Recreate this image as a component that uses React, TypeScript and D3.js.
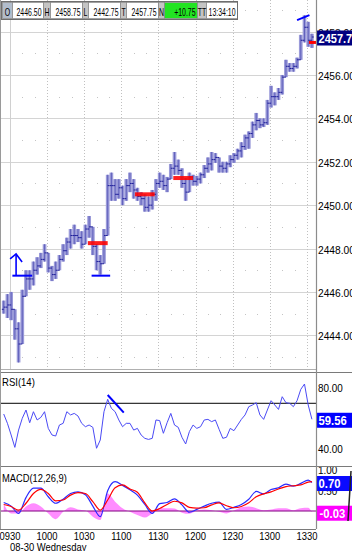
import React from "react";
import * as d3 from "d3";

// ---------- data ----------
const quoteLabels = ["O", "H", "L", "T", "N", "TT"];
const quoteValues = ["2446.50", "2458.75", "2442.75", "2457.75", "+10.75", "13:34:10"];

const firstBarTime = "09:25";
const barMinutes = 3;

const barOpen = [2445.2, 2445.3, 2445.4, 2445.2, 2444.3, 2443.6, 2445.8, 2446.6, 2446.6, 2447.0,
  2447.2, 2447.5, 2447.8, 2447.1, 2446.8, 2447.0, 2447.5, 2447.9, 2448.3, 2448.6,
  2448.6, 2448.5, 2448.2, 2448.9, 2449.0, 2448.1, 2447.4, 2447.3, 2448.6, 2450.9,
  2450.9, 2450.5, 2450.8, 2450.3, 2450.9, 2451.0, 2450.7, 2450.4, 2450.3, 2449.9,
  2450.0, 2450.5, 2451.0, 2451.1, 2450.9, 2451.2, 2451.7, 2451.8, 2451.6, 2451.0,
  2450.6, 2451.3, 2451.1, 2451.2, 2451.4, 2451.7, 2451.9, 2452.1, 2452.2, 2451.8,
  2451.7, 2451.9, 2452.1, 2452.3, 2452.5, 2452.7, 2453.1, 2453.3, 2453.7, 2453.9,
  2453.7, 2453.8, 2454.7, 2455.0, 2455.0, 2455.2, 2455.9, 2456.4, 2456.3, 2456.4,
  2456.7, 2457.6, 2458.2, 2457.6];
const barHigh = [2445.6, 2445.9, 2446.0, 2445.2, 2444.6, 2446.1, 2447.0, 2447.0, 2447.4, 2447.6,
  2447.8, 2448.2, 2447.8, 2447.2, 2447.4, 2447.7, 2448.2, 2448.5, 2448.9, 2449.1,
  2448.9, 2448.8, 2449.1, 2449.5, 2449.0, 2448.2, 2447.7, 2448.9, 2451.4, 2451.5,
  2451.2, 2451.2, 2450.9, 2451.2, 2451.5, 2451.2, 2450.8, 2450.6, 2450.5, 2450.4,
  2450.7, 2451.2, 2451.5, 2451.4, 2451.3, 2451.9, 2452.45, 2452.1, 2451.7, 2451.25,
  2451.5, 2451.4, 2451.35, 2451.5, 2451.85, 2452.2, 2452.45, 2452.4, 2452.2, 2452.0,
  2452.0, 2452.3, 2452.4, 2452.6, 2452.9, 2453.25, 2453.4, 2453.85, 2454.25, 2454.0,
  2454.0, 2454.85, 2455.5, 2455.2, 2455.4, 2456.0, 2456.7, 2456.55, 2456.55, 2456.8,
  2457.85, 2458.75, 2458.45, 2457.9];
const barLow = [2445.0, 2444.8, 2444.7, 2443.8, 2442.75, 2443.6, 2445.8, 2446.1, 2446.3, 2446.8,
  2447.1, 2447.4, 2446.9, 2446.5, 2446.6, 2447.0, 2447.4, 2447.7, 2448.0, 2448.2,
  2448.3, 2448.0, 2448.2, 2448.5, 2447.7, 2447.0, 2446.8, 2447.3, 2448.6, 2450.2,
  2450.2, 2450.3, 2450.0, 2450.2, 2450.6, 2450.3, 2450.2, 2450.0, 2449.7, 2449.7,
  2449.8, 2450.2, 2450.8, 2450.7, 2450.6, 2451.2, 2451.4, 2451.4, 2450.8, 2450.2,
  2450.6, 2450.9, 2450.9, 2451.0, 2451.25, 2451.5, 2451.6, 2451.95, 2451.5, 2451.5,
  2451.5, 2451.75, 2451.95, 2452.1, 2452.2, 2452.55, 2452.6, 2453.1, 2453.45, 2453.55,
  2453.6, 2453.7, 2454.5, 2454.6, 2454.85, 2455.1, 2455.9, 2456.15, 2456.15, 2456.3,
  2456.7, 2457.5, 2457.3, 2457.25];
const barClose = [2445.3, 2445.4, 2445.2, 2444.3, 2443.6, 2445.8, 2446.6, 2446.6, 2447.0, 2447.2,
  2447.5, 2447.8, 2447.1, 2446.8, 2447.0, 2447.5, 2447.9, 2448.3, 2448.6, 2448.6,
  2448.5, 2448.2, 2448.9, 2449.0, 2448.1, 2447.4, 2447.3, 2448.6, 2450.9, 2450.9,
  2450.5, 2450.8, 2450.3, 2450.9, 2451.0, 2450.7, 2450.4, 2450.3, 2449.9, 2450.0,
  2450.5, 2451.0, 2451.1, 2450.9, 2451.2, 2451.7, 2451.8, 2451.6, 2451.0, 2450.6,
  2451.3, 2451.1, 2451.2, 2451.4, 2451.7, 2451.9, 2452.1, 2452.2, 2451.8, 2451.7,
  2451.9, 2452.1, 2452.3, 2452.5, 2452.7, 2453.1, 2453.3, 2453.7, 2453.9, 2453.7,
  2453.8, 2454.7, 2455.0, 2455.0, 2455.2, 2455.9, 2456.4, 2456.3, 2456.4, 2456.7,
  2457.6, 2458.2, 2457.6, 2457.75];

const priceTicks = [2444, 2446, 2448, 2450, 2452, 2454, 2456, 2458];
const timeTicks = ["09:30", "10:00", "10:30", "11:00", "11:30", "12:00", "12:30", "13:00", "13:30"];
const dateLabel = "08-30 Wednesday";

const rsiTitle = "RSI(14)";
const rsiValues = [63.0, 56.9, 49.3, 41.2, 52.5, 60.2, 65.6, 57.3, 64.5, 59.1,
  60.8, 64.5, 53.6, 49.3, 48.6, 55.8, 56.9, 64.5, 62.4, 63.4,
  61.7, 56.9, 54.7, 55.8, 54.3, 40.6, 46.0, 64.5, 72.6, 66.7,
  64.5, 59.1, 54.7, 56.9, 56.9, 52.5, 53.6, 49.3, 47.1, 46.4,
  47.1, 59.1, 58.7, 50.4, 57.3, 63.4, 55.8, 54.3, 47.8, 43.4,
  51.5, 55.8, 53.6, 54.7, 59.1, 59.5, 58.0, 59.1, 53.0, 47.1,
  47.8, 53.6, 52.1, 55.8, 59.5, 62.4, 67.8, 68.9, 70.4, 62.4,
  59.5, 65.6, 71.7, 68.9, 66.0, 74.3, 70.4, 70.0, 67.8, 71.7,
  79.1, 82.6, 68.9, 59.56];
const rsiTicks = [80, 40];
const rsiLevel = 70;

const macdTitle = "MACD(12,26,9)";
const macdBarIndex = d3.range(0, 84, 2).concat([83]);
const macdLine = [0.21, 0.12, -0.06, 0.33, 0.56, 0.56, 0.35, 0.19, 0.29, 0.43,
  0.47, 0.40, 0.12, -0.14, 0.50, 0.72, 0.63, 0.52, 0.39, 0.16,
  -0.06, 0.18, 0.21, 0.30, 0.15, -0.03, 0.04, 0.12, 0.19, 0.22,
  0.04, 0.09, 0.16, 0.29, 0.48, 0.42, 0.53, 0.57, 0.66, 0.61,
  0.68, 0.76, 0.70];
const macdSignal = [0.16, 0.11, 0.02, 0.19, 0.43, 0.53, 0.43, 0.25, 0.27, 0.39,
  0.45, 0.43, 0.23, 0.02, 0.27, 0.57, 0.64, 0.54, 0.46, 0.20,
  0.00, 0.06, 0.16, 0.24, 0.20, 0.09, 0.07, 0.08, 0.15, 0.20,
  0.13, 0.08, 0.11, 0.20, 0.35, 0.42, 0.47, 0.54, 0.60, 0.62,
  0.64, 0.71, 0.72];
const macdHist = [0.17, -0.06, -0.06, 0.11, 0.19, 0.11, -0.06, -0.20, -0.02, 0.09,
  0.04, 0.01, -0.14, -0.22, 0.43, 0.23, 0.07, -0.02, -0.10, -0.16,
  -0.06, 0.07, 0.07, 0.06, -0.04, -0.07, 0.01, 0.04, 0.02, -0.02,
  -0.06, 0.01, 0.09, 0.11, 0.07, 0.02, 0.04, 0.07, 0.07, 0.02,
  0.07, 0.08, -0.03];
const macdTicks = [1.0, 0.5, 0.0];

// annotations
const redLevelPrices = [2448.25, 2450.5, 2451.25];
const redLevelFrom = ["10:33", "11:11", "11:42"];
const redLevelTo = ["10:49", "11:27", "11:58"];
const blueLevelPrices = [2446.75, 2446.75];
const blueLevelFrom = ["09:32", "10:36"];
const blueLevelTo = ["09:48", "10:51"];
const arrowTime = "09:35";
const arrowPrices = [2446.75, 2447.75];
const topTrendTimes = ["13:22", "13:32"];
const topTrendPrices = [2458.53, 2458.76];
const rsiTrendTimes = ["10:49", "11:02"];
const rsiTrendValues = [75.4, 63.9];
const lastMarkPrice = 2457.5;

// ---------- helpers ----------
const toMin = (s: string) => {
  const [h, m] = s.split(":").map(Number);
  return h * 60 + m;
};
const FF = "'Liberation Sans', Arial, Helvetica, sans-serif";

function Txt(props: any) {
  const { x, y, s = 1, a = "start", size = 11, w = 400, fill = "#000", children } = props;
  return (
    <text
      transform={`translate(${x},${y}) scale(${s},1)`}
      textAnchor={a}
      fontSize={size}
      fontWeight={w}
      fill={fill}
      fontFamily={FF}
    >
      {children}
    </text>
  );
}

export default function App() {
  const W = 352, H = 551, R = 316;
  const x = d3.scaleLinear().domain([562.0, 817.3]).range([0, R]);
  const yP = d3.scaleLinear().domain([2442.31, 2459.456]).range([372, 0]);
  const yR = d3.scaleLinear().domain([29.02, 89.8]).range([466, 373]);
  const yM = d3.scaleLinear().domain([-0.442, 1.081]).range([529, 467]);

  const t0 = toMin(firstBarTime);
  const bars = barClose.map((c, i) => ({
    t: t0 + i * barMinutes, o: barOpen[i], h: barHigh[i], l: barLow[i], c,
  }));
  const bw = x(t0 + barMinutes) - x(t0);
  const last = bars[bars.length - 1];

  const rsiPath = d3.line<number>().x((_, i) => x(bars[i].t)).y((v) => yR(v))(rsiValues) || "";
  const mPts = macdBarIndex.map((bi, k) => ({ t: bars[bi].t, m: macdLine[k], s: macdSignal[k], h: macdHist[k] }));
  const mPath = d3.line<any>().x((d) => x(d.t)).y((d) => yM(d.m)).curve(d3.curveMonotoneX)(mPts) || "";
  const sPath = d3.line<any>().x((d) => x(d.t)).y((d) => yM(d.s)).curve(d3.curveMonotoneX)(mPts) || "";
  const hPath = d3.area<any>().x((d) => x(d.t)).y0(yM(0)).y1((d) => yM(d.h)).curve(d3.curveMonotoneX)(mPts) || "";

  // minor grid dots
  const dots: { x: number; y: number }[] = [];
  for (let t = toMin("09:40"); t <= toMin("13:30"); t += 10) {
    if (t % 30 === 0) continue;
    for (let p = 2443; p <= 2459; p += 2) dots.push({ x: x(t), y: yP(p) });
  }

  // header cells
  const headerW = [[10, 31], [7, 32], [6, 32], [6, 32], [6, 33], [9, 31]];
  let hx = 2;
  const header = headerW.map(([lw, vw], i) => {
    const cell = { lx: hx, lw, vx: hx + lw, vw, label: quoteLabels[i], value: quoteValues[i] };
    hx += lw + vw;
    return cell;
  });

  const lastLabelY = yP(last.c) + 1;
  const rsiLast = rsiValues[rsiValues.length - 1];
  const macdLast = macdLine[macdLine.length - 1];
  const histLast = macdHist[macdHist.length - 1];

  return (
    <svg width={W} height={H} style={{ position: "absolute", left: 0, top: 0, background: "#fff" }}>
      <defs>
        <clipPath id="cp"><rect x={0} y={0} width={R} height={369} /></clipPath>
        <clipPath id="cr"><rect x={0} y={373} width={R} height={93} /></clipPath>
        <clipPath id="cm"><rect x={0} y={467} width={R} height={62} /></clipPath>
        <clipPath id="ap"><rect x={R} y={0} width={40} height={371} /></clipPath>
        <clipPath id="ar"><rect x={R} y={373} width={40} height={93} /></clipPath>
        <clipPath id="am"><rect x={R} y={467} width={40} height={62} /></clipPath>
      </defs>
      <rect x={0} y={0} width={W} height={H} fill="#fff" />

      {/* ---------- price panel ---------- */}
      <g clipPath="url(#cp)">
        {priceTicks.map((p) => (
          <line key={p} x1={0} x2={R} y1={Math.round(yP(p)) + 0.5} y2={Math.round(yP(p)) + 0.5} stroke="#d4d4d4" />
        ))}
        {dots.map((d, i) => (
          <rect key={i} x={Math.round(d.x)} y={Math.round(d.y)} width={1} height={1} fill="#c4c4c4" />
        ))}
        {timeTicks.map((t, i) => (
          <line key={t} x1={Math.round(x(toMin(t))) + 0.5} x2={Math.round(x(toMin(t))) + 0.5} y1={0} y2={369}
            stroke={i === 0 ? "#d0d0d0" : "#c0c0c0"} strokeDasharray={i === 0 ? undefined : "1,2"} />
        ))}
        {bars.map((b, i) => {
          const cx = x(b.t);
          return (
            <g key={i}>
              <rect x={cx - bw / 2} y={yP(b.h)} width={bw} height={Math.max(1, yP(b.l) - yP(b.h))} fill="#9a9ad9" />
              <line x1={cx} x2={cx} y1={yP(b.h)} y2={yP(b.l)} stroke="#6262bc" strokeWidth={1} />
              <line x1={cx - bw / 2} x2={cx} y1={yP(b.o)} y2={yP(b.o)} stroke="#20209a" strokeWidth={1} />
              <line x1={cx} x2={cx + bw / 2} y1={yP(b.c)} y2={yP(b.c)} stroke="#20209a" strokeWidth={1} />
            </g>
          );
        })}
        {redLevelPrices.map((p, i) => (
          <rect key={i} x={x(toMin(redLevelFrom[i]))} y={yP(p) - 2} width={x(toMin(redLevelTo[i])) - x(toMin(redLevelFrom[i]))}
            height={4} fill="#ff0000" opacity={0.88} />
        ))}
        {blueLevelPrices.map((p, i) => (
          <line key={i} x1={x(toMin(blueLevelFrom[i]))} x2={x(toMin(blueLevelTo[i]))} y1={yP(p)} y2={yP(p)} stroke="#0000ff" strokeWidth={2} />
        ))}
        <line x1={x(toMin(arrowTime))} x2={x(toMin(arrowTime))} y1={yP(arrowPrices[0])} y2={yP(arrowPrices[1])} stroke="#0000ff" strokeWidth={1.6} />
        <polyline
          points={`${x(toMin(arrowTime)) - 6},${yP(arrowPrices[1]) + 5} ${x(toMin(arrowTime))},${yP(arrowPrices[1])} ${x(toMin(arrowTime)) + 6},${yP(arrowPrices[1]) + 8}`}
          fill="none" stroke="#0000ff" strokeWidth={1.6} />
        <line x1={x(toMin(topTrendTimes[0]))} x2={x(toMin(topTrendTimes[1]))} y1={yP(topTrendPrices[0])} y2={yP(topTrendPrices[1])}
          stroke="#0000ff" strokeWidth={2} />
        <line x1={x(last.t) - 3} x2={R} y1={yP(lastMarkPrice)} y2={yP(lastMarkPrice)} stroke="#ff0000" strokeWidth={3} />
      </g>
      <line x1={0} x2={R} y1={369.5} y2={369.5} stroke="#b0b0b0" />

      {/* price axis */}
      <g clipPath="url(#ap)">
        {priceTicks.map((p) => (
          <Txt key={p} x={318} y={yP(p) + 5} s={0.93} size={11}>{p.toFixed(2)}</Txt>
        ))}
        <rect x={317} y={lastLabelY - 7.5} width={36} height={15} fill="#000080" />
        <Txt x={318.5} y={lastLabelY + 4.5} s={0.92} size={12} w={700} fill="#fff">{last.c.toFixed(2)}</Txt>
      </g>

      {/* header */}
      <g>
        {header.map((c, i) => (
          <g key={i}>
            <rect x={c.lx + 0.5} y={2.5} width={c.lw} height={16} fill={i === 0 ? "#b2bdcc" : "#c4c4c4"} stroke="#8a8a8a" strokeWidth={0.8} />
            <rect x={c.vx + 0.5} y={2.5} width={c.vw} height={16} fill={i === 4 ? "#22e422" : "#ffffff"} stroke="#8a8a8a" strokeWidth={0.8} />
            <Txt x={c.lx + c.lw / 2 + 0.5} y={15.5} a="middle" s={0.66} size={10.5}>{c.label}</Txt>
            <Txt x={c.vx + c.vw - 1.5} y={15.5} a="end" s={0.66} size={10.5}>{c.value}</Txt>
          </g>
        ))}
        <rect x={1.5} y={1.5} width={hx - 1} height={18} fill="none" stroke="#6e6e6e" strokeWidth={1} />
      </g>

      {/* ---------- RSI panel ---------- */}
      <line x1={0} x2={W} y1={372.5} y2={372.5} stroke="#7a7a7a" />
      <g clipPath="url(#cr)">
        <line x1={0} x2={R} y1={yR(rsiLevel)} y2={yR(rsiLevel)} stroke="#000" strokeWidth={1} />
        <path d={rsiPath} fill="none" stroke="#4a4af5" strokeWidth={1} />
        <line x1={x(toMin(rsiTrendTimes[0]))} x2={x(toMin(rsiTrendTimes[1]))} y1={yR(rsiTrendValues[0])} y2={yR(rsiTrendValues[1])}
          stroke="#0000ff" strokeWidth={2} />
      </g>
      <Txt x={2} y={385.7} s={0.91} size={10.5}>{rsiTitle}</Txt>
      <g clipPath="url(#ar)">
        {rsiTicks.map((v) => (
          <Txt key={v} x={318} y={yR(v) + 4} s={0.9} size={11}>{v.toFixed(2)}</Txt>
        ))}
        <rect x={317} y={yR(rsiLast) + 1 - 7.5} width={36} height={15} fill="#0000ff" />
        <Txt x={318.5} y={yR(rsiLast) + 1 + 4.5} s={0.94} size={12} w={700} fill="#fff">{rsiLast.toFixed(2)}</Txt>
      </g>

      {/* ---------- MACD panel ---------- */}
      <line x1={0} x2={W} y1={466.5} y2={466.5} stroke="#7a7a7a" />
      <g clipPath="url(#cm)">
        <path d={hPath} fill="#ff8cff" stroke="none" />
        <line x1={0} x2={R} y1={yM(0)} y2={yM(0)} stroke="#800080" strokeWidth={1} />
        <path d={mPath} fill="none" stroke="#2a2aff" strokeWidth={1.2} />
        <path d={sPath} fill="none" stroke="#ff0000" strokeWidth={1.2} />
      </g>
      <Txt x={2} y={481.5} s={0.89} size={10.5}>{macdTitle}</Txt>
      <g clipPath="url(#am)">
        {macdTicks.map((v) => (
          <Txt key={v} x={318} y={yM(v) + 4} s={0.9} size={11}>{v.toFixed(2)}</Txt>
        ))}
        <rect x={317} y={yM(macdLast) + 1 - 7.5} width={36} height={15} fill="#0a0aff" />
        <Txt x={318.5} y={yM(macdLast) + 1 + 4.5} s={0.94} size={12} w={700} fill="#fff">{macdLast.toFixed(2)}</Txt>
        <rect x={317} y={yM(histLast) + 1 - 7.5} width={36} height={15} fill="#ff00ff" />
        <Txt x={319.5} y={yM(histLast) + 1 + 4.5} s={0.94} size={12} w={700} fill="#fff">{histLast.toFixed(2)}</Txt>
      </g>
      <line x1={351} x2={348} y1={471} y2={521} stroke="#222" strokeWidth={1.5} />

      {/* frame lines */}
      <line x1={R + 0.5} x2={R + 0.5} y1={0} y2={529} stroke="#8c8c8c" strokeWidth={1.2} />
      <line x1={0.5} x2={0.5} y1={0} y2={529} stroke="#9a9a9a" />
      <line x1={0} x2={R} y1={529.5} y2={529.5} stroke="#7a7a7a" />

      {/* time axis */}
      {timeTicks.map((t) => (
        <Txt key={t} x={x(toMin(t))} y={539.5} a="middle" s={0.82} size={11.5}>{t.replace(":", "")}</Txt>
      ))}
      <Txt x={10} y={550.5} s={0.86} size={11}>{dateLabel}</Txt>
    </svg>
  );
}
